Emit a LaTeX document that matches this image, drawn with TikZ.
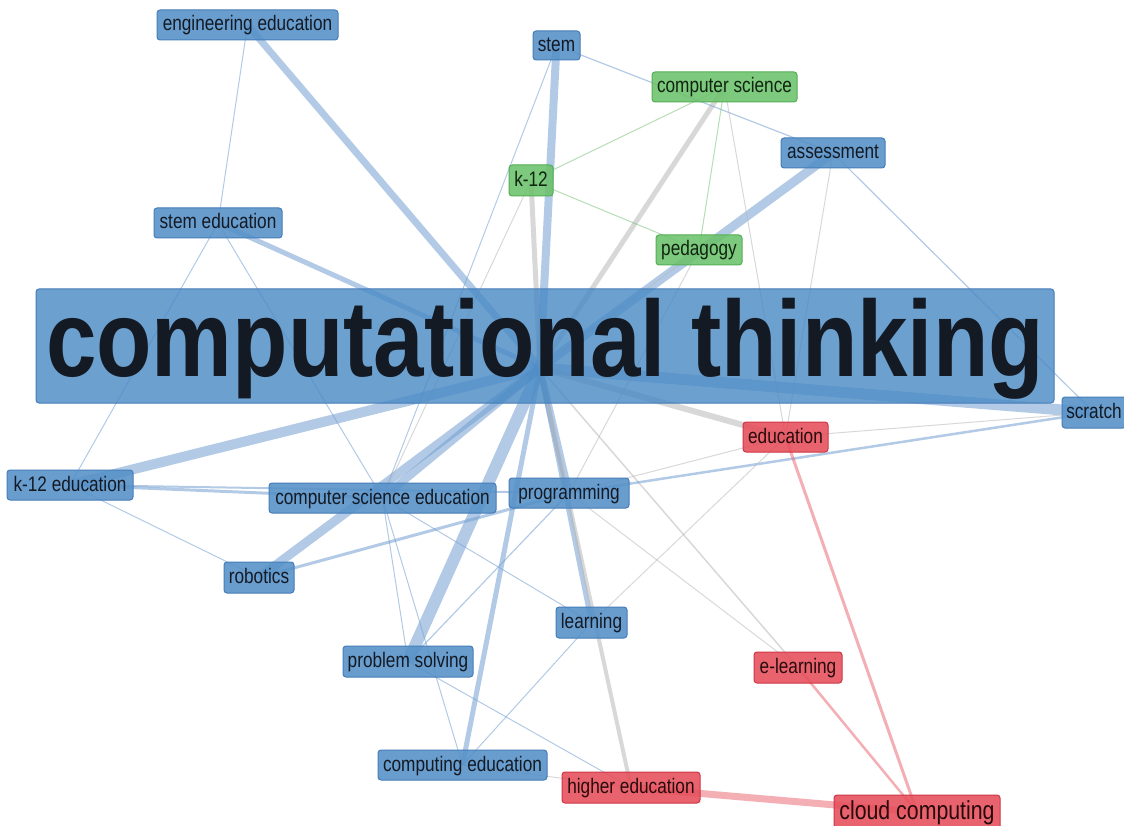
\documentclass[tikz,border=0pt]{standalone}
\usepackage{fontspec}
\setmainfont{Liberation Sans}[FakeStretch=0.82]
\newfontfamily\bigfont{Liberation Sans}[FakeStretch=0.84]
\usetikzlibrary{backgrounds}
\definecolor{bluefill}{RGB}{84,144,200}
\definecolor{ctfill}{RGB}{72,137,196}
\definecolor{bluebd}{RGB}{70,125,185}
\definecolor{greenfill}{RGB}{108,194,108}
\definecolor{greenbd}{RGB}{85,175,85}
\definecolor{redfill}{RGB}{230,78,90}
\definecolor{redbd}{RGB}{205,55,70}
\definecolor{txtb}{RGB}{20,26,36}
\definecolor{txtg}{RGB}{16,36,16}
\definecolor{txtr}{RGB}{40,10,12}
\definecolor{eblue}{RGB}{115,160,210}
\definecolor{egray}{RGB}{185,185,185}
\definecolor{ered}{RGB}{232,96,106}
\definecolor{egreen}{RGB}{110,190,110}
\tikzset{
  kw/.style={rounded corners=3pt, line width=1pt, fill opacity=0.88, text opacity=1,
    inner sep=0pt, text height=16.2pt, text depth=4.2pt,
    font=\fontsize{21}{24}\selectfont},
  kwb/.style={kw, draw=bluebd, fill=bluefill, text=txtb},
  kwg/.style={kw, draw=greenbd, fill=greenfill, text=txtg},
  kwr/.style={kw, draw=redbd, fill=redfill, text=txtr},
  eb/.style={draw=eblue, draw opacity=0.55},
  eg/.style={draw=egray, draw opacity=0.55},
  er/.style={draw=ered, draw opacity=0.5},
  egr/.style={draw=egreen, draw opacity=0.5},
}
\begin{document}
\begin{tikzpicture}[x=1pt,y=-1pt]
\path[use as bounding box] (0,0) rectangle (1124,826);
\clip (0,0) rectangle (1124,826);

% nodes
\node[kwb, fill=ctfill, fill opacity=0.8, minimum width=1018pt, minimum height=114pt, text height=83pt, text depth=21.6pt,
      font=\bigfont\fontsize{108}{110}\selectfont\bfseries] (ct) at (545,346) {computational thinking};
\coordinate (hub) at (540,368);
\node[kwb, minimum width=181pt, minimum height=30pt] (engedu) at (247.5,25) {engineering education};
\node[kwb, minimum width=47pt, minimum height=29pt] (stem) at (556.5,45.5) {stem};
\node[kwg, minimum width=145pt, minimum height=30pt] (cs) at (724.5,87) {computer science};
\node[kwb, minimum width=104pt, minimum height=30pt] (assess) at (833,153) {assessment};
\node[kwg, minimum width=44pt, minimum height=31pt] (k12) at (531,180.5) {k-12};
\node[kwb, minimum width=128pt, minimum height=30pt] (stemedu) at (218,223) {stem education};
\node[kwg, minimum width=86pt, minimum height=30pt] (peda) at (699,250) {pedagogy};
\node[kwb, minimum width=64pt, minimum height=31pt] (scratch) at (1094,412.5) {scratch};
\node[kwr, minimum width=85pt, minimum height=30pt] (edu) at (785.5,437) {education};
\node[kwb, minimum width=126pt, minimum height=30pt] (k12edu) at (70,485) {k-12 education};
\node[kwb, minimum width=227pt, minimum height=30pt] (csedu) at (382.5,498) {computer science education};
\node[kwb, minimum width=120pt, minimum height=30pt] (prog) at (569,493) {programming};
\node[kwb, minimum width=70pt, minimum height=31pt] (robot) at (259,577.5) {robotics};
\node[kwb, minimum width=71pt, minimum height=31pt] (learn) at (591.5,622.5) {learning};
\node[kwb, minimum width=130pt, minimum height=31pt] (probsolv) at (408,661.5) {problem solving};
\node[kwr, minimum width=88pt, minimum height=31pt] (elearn) at (798,667.5) {e-learning};
\node[kwb, minimum width=169pt, minimum height=30pt] (compedu) at (462.5,765) {computing education};
\node[kwr, minimum width=138pt, minimum height=31pt] (highedu) at (631,787.5) {higher education};
\node[kwr, minimum width=166pt, minimum height=34pt, text height=20pt, text depth=5.2pt,
      font=\fontsize{26}{28}\selectfont] (cloud) at (917,812) {cloud computing};

\begin{pgfonlayer}{background}
\fill[white] (0,0) rectangle (1124,826);
% thick blue links to the hub
\draw[eb, line width=7pt] (engedu.center) -- (hub);
\draw[eb, line width=8pt] (stem.center) -- (hub);
\draw[eb, line width=9pt] (assess.center) -- (hub);
\draw[eb, line width=5pt] (stemedu.center) -- (hub);
\draw[eb, line width=11pt] (scratch.center) -- (hub);
\draw[eb, line width=10pt] (k12edu.center) -- (hub);
\draw[eb, line width=8pt] (csedu.center) -- (hub);
\draw[eb, line width=9pt] (robot.center) -- (hub);
\draw[eb, line width=7pt] (prog.center) -- (hub);
\draw[eb, line width=12pt] (probsolv.center) -- (hub);
\draw[eb, line width=5pt] (compedu.center) -- (hub);
\draw[eb, line width=5pt] (learn.center) -- (hub);
% gray links to the hub
\draw[eg, line width=5pt] (k12.center) -- (hub);
\draw[eg, line width=5pt] (cs.center) -- (hub);
\draw[eg, line width=6pt] (edu.center) -- (hub);
\draw[eg, line width=4pt] (highedu.center) -- (hub);
\draw[eg, line width=1.5pt] (elearn.center) -- (hub);
\draw[eg, line width=1pt] (peda.center) -- (hub);
% thin blue links
\draw[eb, line width=1pt] (engedu.center) -- (stemedu.center);
\draw[eb, line width=1.2pt] (stem.center) -- (assess.center);
\draw[eb, line width=1pt] (stem.center) -- (csedu.center);
\draw[eb, line width=1.2pt] (assess.center) -- (scratch.center);
\draw[eb, line width=1pt] (stemedu.center) -- (k12edu.center);
\draw[eb, line width=1pt] (stemedu.center) -- (csedu.center);
\draw[eb, line width=3pt] (k12edu.center) -- (csedu.center);
\draw[eb, line width=2pt] (k12edu.center) -- (prog.center);
\draw[eb, line width=1pt] (k12edu.center) -- (robot.center);
\draw[eb, line width=3pt] (robot.center) -- (prog.center);
\draw[eb, line width=2.5pt] (scratch.center) -- (prog.center);
\draw[eb, line width=1pt] (csedu.center) -- (probsolv.center);
\draw[eb, line width=1pt] (csedu.center) -- (compedu.center);
\draw[eb, line width=1pt] (csedu.center) -- (learn.center);
\draw[eb, line width=1.2pt] (probsolv.center) -- (prog.center);
\draw[eb, line width=1pt] (compedu.center) -- (learn.center);
\draw[eb, line width=1pt] (probsolv.center) -- (highedu.center);
\draw[eg, line width=1pt] (compedu.center) -- (highedu.center);
% thin gray links
\draw[eg, line width=1pt] (cs.center) -- (edu.center);
\draw[eg, line width=1pt] (assess.center) -- (edu.center);
\draw[eg, line width=1pt] (scratch.center) -- (edu.center);
\draw[eg, line width=1pt] (prog.center) -- (edu.center);
\draw[eg, line width=1pt] (learn.center) -- (edu.center);
\draw[eg, line width=1pt] (prog.center) -- (elearn.center);
\draw[eg, line width=1pt] (k12.center) -- (csedu.center);
\draw[eg, line width=1pt] (peda.center) -- (prog.center);
% green links
\draw[egr, line width=1pt] (cs.center) -- (k12.center);
\draw[egr, line width=1pt] (cs.center) -- (peda.center);
\draw[egr, line width=1pt] (k12.center) -- (peda.center);
% red links
\draw[er, line width=3pt] (edu.center) -- (cloud.center);
\draw[er, line width=2.5pt] (elearn.center) -- (cloud.center);
\draw[er, line width=7pt] (highedu.center) -- (cloud.center);
\end{pgfonlayer}
\end{tikzpicture}
\end{document}
